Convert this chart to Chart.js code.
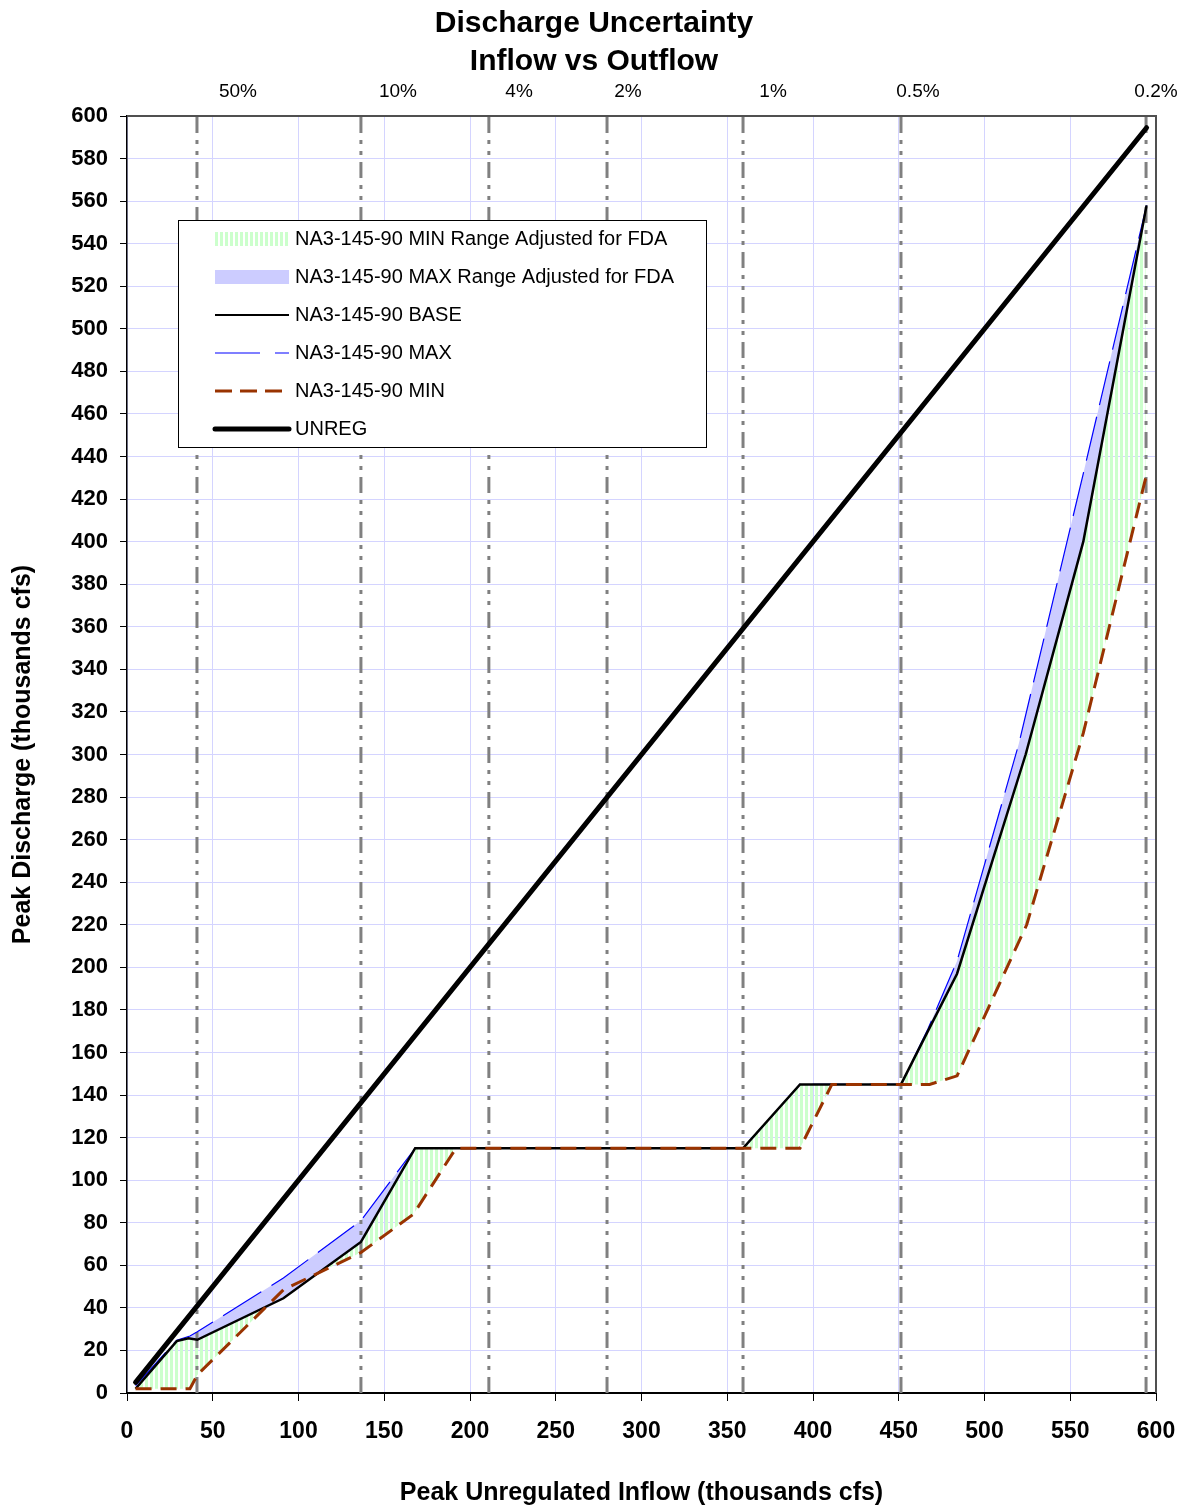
<!DOCTYPE html>
<html><head><meta charset="utf-8">
<script src="https://cdn.jsdelivr.net/npm/chart.js@4/dist/chart.umd.min.js"></script>
<style>html,body{margin:0;padding:0;background:#fff}</style>
</head><body>
<canvas id="c" width="1188" height="1511"></canvas>
<script>
// ---------- data ----------
const titleLines = ['Discharge Uncertainty', 'Inflow vs Outflow'];
const xAxisTitle = 'Peak Unregulated Inflow (thousands cfs)';
const yAxisTitle = 'Peak Discharge (thousands cfs)';

const unregX = [5, 594.5];
const unregY = [5, 594.5];

const baseX = [5, 29, 35.8, 41, 91.2, 136.4, 168, 359.2, 392.4, 451.3, 467, 484, 524, 557.6, 594.5];
const baseY = [2, 24.4, 25.7, 25, 44.5, 71, 115, 115, 145, 145, 170, 197, 300, 400, 558];

const maxX = [5, 29, 36.7, 41, 91.2, 136.4, 168, 359.2, 392.4, 451.3, 467, 484, 520, 557.6, 594.5];
const maxY = [3.5, 24.8, 26.8, 28.8, 54, 81, 115, 115, 145, 145, 171, 203, 305, 432, 558];

const minX = [5, 36.7, 41, 91.2, 136.4, 167, 191.8, 359.2, 392.4, 411, 451.3, 468, 484, 524.6, 557.6, 594];
const minY = [2, 2, 8.5, 48.5, 66, 84, 115, 115, 115, 145, 145, 145, 149, 220, 310, 430];

const freqLineX = [40.8, 136.4, 211, 279.9, 359.2, 451.3, 594.2];
const freqLabels = ['50%', '10%', '4%', '2%', '1%', '0.5%', '0.2%'];
const freqLabelX = [64.7, 158, 228.6, 292.1, 376.7, 461.2, 600];

const legendLabels = [
  'NA3-145-90 MIN Range Adjusted for FDA',
  'NA3-145-90 MAX Range Adjusted for FDA',
  'NA3-145-90 BASE',
  'NA3-145-90 MAX',
  'NA3-145-90 MIN',
  'UNREG'
];

// ---------- helpers ----------
const FONT = '"Liberation Sans", Arial, Helvetica, sans-serif';
const pts = (xs, ys) => xs.map((x, i) => ({x: x, y: ys[i]}));
const canvas = document.getElementById('c');
const mainCtx = canvas.getContext('2d');

const GREEN = 'rgb(204,255,204)';
const LAVENDER = 'rgb(204,204,255)';
function stripePattern(ctx) {
  const c = document.createElement('canvas');
  c.width = 5; c.height = 4;
  const g = c.getContext('2d');
  g.fillStyle = GREEN;
  g.fillRect(0, 0, 3, 4);
  return ctx.createPattern(c, 'repeat');
}
const greenPattern = stripePattern(mainCtx);

const BASE_IDX = 2;
const datasets = [
  {label: 'UNREG', data: pts(unregX, unregY), borderColor: '#000', borderWidth: 5,
   borderCapStyle: 'round', fill: false},
  {label: 'NA3-145-90 MIN', data: pts(minX, minY), borderColor: '#993300', borderWidth: 3,
   borderDash: [16, 9], fill: {target: BASE_IDX, above: 'rgba(0,0,0,0)', below: greenPattern}},
  {label: 'NA3-145-90 BASE', data: pts(baseX, baseY), borderColor: '#000', borderWidth: 2.5, fill: false},
  {label: 'NA3-145-90 MAX', data: pts(maxX, maxY), borderColor: '#0000ff', borderWidth: 1.2,
   borderDash: [45, 12], fill: {target: BASE_IDX, above: LAVENDER, below: 'rgba(0,0,0,0)'}}
];
freqLineX.forEach(x => {
  datasets.push({label: '', data: [{x: x, y: 0}, {x: x, y: 600}], borderColor: '#808080',
    borderWidth: 3, borderDash: [16, 7, 4, 7, 4, 7], fill: false});
});

const frameAndLegend = {
  id: 'frameAndLegend',
  afterDraw(chart) {
    const ctx = chart.ctx;
    const a = chart.chartArea;
    ctx.save();
    // top and right frame
    ctx.strokeStyle = '#505050';
    ctx.lineWidth = 2;
    ctx.beginPath();
    ctx.moveTo(a.left, a.top);
    ctx.lineTo(a.right, a.top);
    ctx.lineTo(a.right, a.bottom);
    ctx.stroke();

    // legend box
    const bx = 178.5, by = 220.5, bw = 528, bh = 227;
    ctx.fillStyle = '#fff';
    ctx.fillRect(bx, by, bw, bh);
    ctx.strokeStyle = '#000';
    ctx.lineWidth = 1;
    ctx.strokeRect(bx, by, bw, bh);
    const sx0 = 215, sx1 = 289, tx = 295;
    ctx.font = '20px ' + FONT;
    ctx.textBaseline = 'middle';
    ctx.textAlign = 'left';
    legendLabels.forEach((lab, i) => {
      const y = 239 + i * 38;
      ctx.save();
      if (i === 0) {
        ctx.fillStyle = greenPattern;
        ctx.fillRect(sx0, y - 7, sx1 - sx0, 14);
      } else if (i === 1) {
        ctx.fillStyle = LAVENDER;
        ctx.fillRect(sx0, y - 7, sx1 - sx0, 14);
      } else {
        ctx.beginPath();
        ctx.moveTo(sx0, y); ctx.lineTo(sx1, y);
        if (i === 2) { ctx.strokeStyle = '#000'; ctx.lineWidth = 2; }
        if (i === 3) { ctx.strokeStyle = '#0000ff'; ctx.lineWidth = 1.2; ctx.setLineDash([45, 15]); }
        if (i === 4) { ctx.strokeStyle = '#993300'; ctx.lineWidth = 3; ctx.setLineDash([17, 8]); }
        if (i === 5) { ctx.strokeStyle = '#000'; ctx.lineWidth = 5; ctx.lineCap = 'round'; }
        ctx.stroke();
      }
      ctx.restore();
      ctx.fillStyle = '#000';
      ctx.fillText(lab, tx, y);
    });
    ctx.restore();
  }
};

new Chart(mainCtx, {
  type: 'line',
  data: {datasets: datasets},
  plugins: [frameAndLegend],
  options: {
    responsive: false,
    animation: false,
    events: [],
    layout: {padding: {left: 0, right: 0, top: 0, bottom: 0}},
    elements: {point: {radius: 0}, line: {tension: 0}},
    plugins: {
      legend: {display: false},
      tooltip: {enabled: false},
      filler: {drawTime: 'beforeDatasetsDraw'},
      title: {
        display: true, text: titleLines, color: '#000',
        font: {family: FONT, size: 30, weight: 'bold', lineHeight: '38px'},
        padding: {top: 5, bottom: 0}
      }
    },
    scales: {
      x: {
        type: 'linear', position: 'bottom', min: 0, max: 600,
        afterFit(s) { s.height = 118; },
        ticks: {stepSize: 50, autoSkip: false, maxRotation: 0, padding: 4, color: '#000',
          font: {family: FONT, size: 23, weight: 'bold', lineHeight: '54px'}},
        grid: {color: 'rgb(212,212,255)', lineWidth: 1, tickLength: 8, tickColor: '#000'},
        border: {color: '#000', width: 2},
        title: {display: true, text: xAxisTitle, color: '#000', padding: {top: 0, bottom: 3},
          font: {family: FONT, size: 25, weight: 'bold'}}
      },
      x2: {
        type: 'linear', position: 'top', min: 0, max: 600,
        afterFit(s) { s.height = 35; },
        afterBuildTicks(s) { s.ticks = freqLabelX.map(v => ({value: v})); },
        ticks: {autoSkip: false, maxRotation: 0, padding: 0, color: '#000',
          font: {family: FONT, size: 19, lineHeight: '48px'},
          callback: (v, i) => freqLabels[i]},
        grid: {display: false, drawTicks: false},
        border: {display: false}
      },
      y: {
        type: 'linear', position: 'left', min: 0, max: 600,
        afterFit(s) { s.width = 127; },
        ticks: {stepSize: 20, autoSkip: false, padding: 12, color: '#000',
          font: {family: FONT, size: 22, weight: 'bold'}},
        grid: {color: 'rgb(212,212,255)', lineWidth: 1, tickLength: 7, tickColor: '#000'},
        border: {color: '#000', width: 1.5},
        title: {display: true, text: yAxisTitle, color: '#000', padding: {top: 8, bottom: 0},
          font: {family: FONT, size: 25, weight: 'bold'}}
      },
      y2: {
        type: 'linear', position: 'right', min: 0, max: 600,
        afterFit(s) { s.width = 32; },
        ticks: {display: false},
        grid: {display: false, drawTicks: false},
        border: {display: false}
      }
    }
  }
});
</script>
</body></html>
